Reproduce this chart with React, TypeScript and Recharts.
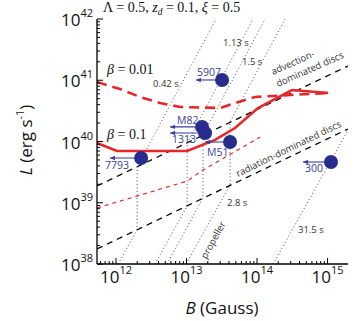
import React from 'react';
import { ComposedChart, Line, XAxis, YAxis } from 'recharts';

const RED = '#e8262a';
const NAVY = '#282c8c';
const NAVY_TEXT = '#3a3e9c';
const GREY = '#4a4a4a';
const SANS = "'Open Sans', 'DejaVu Sans', sans-serif";
const SERIF = "'Liberation Serif', 'Times New Roman', serif";

const B_MIN = 5.37e11;
const B_MAX = 1.95e15;
const L_MIN = 1e38;
const L_MAX = 1e42;

// beta = 0.1, solid red
const beta01B = [5.37e11, 1.03e12, 1.02e13, 2.54e13, 4.87e13, 1.03e14, 3.13e14, 1.02e15];
const beta01L = [9.46e39, 7.0e39, 7.0e39, 1.06e40, 1.66e40, 3.52e40, 6.93e40, 6.2e40];

// beta = 0.01, thick dashed red
const beta001B = [5.37e11, 1.14e12, 2.19e12, 4.21e12, 8.09e12, 2.99e13, 4.42e13, 9.38e13, 2.94e14, 1.02e15];
const beta001L = [9.36e40, 7.19e40, 5.33e40, 4.26e40, 3.66e40, 3.52e40, 4.1e40, 5.33e40, 5.75e40, 6.2e40];

// thin dashed red
const thinRedB = [5.37e11, 1.02e13, 1.71e13, 1.1e14];
const thinRedL = [8.2e38, 2.26e39, 3.43e39, 1.18e40];

// disc regime boundaries (black dashed)
const advectionB = [5.37e11, 1.95e15];
const advectionL = [1.88e39, 1.71e41];
const radiationB = [5.37e11, 1.95e15];
const radiationL = [1.76e38, 1.6e40];

// spin-equilibrium lines (dotted)
const spin042B = [1.07e12, 1.99e12, 1.99e12, 2.62e13];
const spin042L = [1e38, 3.59e38, 3.84e39, 1e42];
const spin113B = [3.57e12, 1.02e13, 1.02e13, 8.77e13];
const spin113L = [1e38, 8.85e38, 9.46e39, 1e42];
const spin15B = [5.28e12, 1.71e13, 1.71e13, 1.3e14];
const spin15L = [1e38, 1.2e39, 1.28e40, 1e42];
const spin28B = [9.84e12, 4.14e13, 4.14e13, 2.49e14];
const spin28L = [1e38, 1.95e39, 2.08e40, 1e42];
const spin315B = [1.69e14, 1.95e15];
const spin315L = [1e38, 1.54e40];

// ULX pulsars
const srcNames = ['5907', 'M82', '1313', 'M51', '7793', '300'];
const srcB = [3.19e13, 1.66e13, 1.83e13, 4.14e13, 2.27e12, 1.12e15];
const srcL = [1.01e41, 1.73e40, 1.38e40, 9.8e39, 5.38e39, 4.62e39];
const srcBLimit = [1.36e13, 5.84e12, 5.84e12, 1.83e13, 8.2e11, 4.49e14];

const labelOffset: Record<string, [number, number]> = {
  '5907': [1, -4],
  M82: [7, -3],
  '1313': [2, 10],
  M51: [2, 14],
  '7793': [-5, 11],
  '300': [2, 10],
};

const xTicks: number[] = [];
for (let e = 11; e <= 15; e++) {
  for (let m = 1; m <= 9; m++) {
    const v = m * 10 ** e;
    if (v >= B_MIN && v <= B_MAX) xTicks.push(v);
  }
}
const yTicks: number[] = [];
for (let e = 38; e <= 42; e++) {
  for (let m = 1; m <= 9; m++) {
    const v = m * 10 ** e;
    if (v >= L_MIN && v <= L_MAX * 1.0001) yTicks.push(v);
  }
}

const zip = (b: number[], l: number[]) => b.map((B, i) => ({ B, L: l[i] }));

const decade = (v: number) => {
  const lg = Math.log10(v);
  const e = Math.round(lg);
  return Math.abs(lg - e) < 1e-6 ? e : null;
};

const XTick = (props: any) => {
  const { x, y, payload, side } = props;
  const e = decade(payload.value);
  const len = e !== null ? 6 : 3;
  const dir = side === 'bottom' ? -1 : 1;
  return (
    <g>
      <line x1={x} x2={x} y1={y} y2={y + dir * len} stroke="#000" strokeWidth={1} />
      {e !== null && side === 'bottom' && (
        <text x={x} y={y + 19} textAnchor="middle" fontFamily={SANS} fontSize={17} fill="#111">
          10
          <tspan fontSize={11} dy={-9}>
            {e}
          </tspan>
        </text>
      )}
    </g>
  );
};

const YTick = (props: any) => {
  const { x, y, payload, side } = props;
  const e = decade(payload.value);
  const len = e !== null ? 6 : 3;
  const dir = side === 'left' ? 1 : -1;
  return (
    <g>
      <line x1={x} x2={x + dir * len} y1={y} y2={y} stroke="#000" strokeWidth={1} />
      {e !== null && side === 'left' && (
        <text x={x - 4} y={y + 7} textAnchor="end" fontFamily={SANS} fontSize={17} fill="#111">
          10
          <tspan fontSize={11} dy={-9}>
            {e}
          </tspan>
        </text>
      )}
    </g>
  );
};

const dotted = { stroke: GREY, strokeWidth: 1, strokeDasharray: '1 2.5', dot: false, isAnimationActive: false } as const;

export default function App() {
  const spinLines = [
    zip(spin042B, spin042L),
    zip(spin113B, spin113L),
    zip(spin15B, spin15L),
    zip(spin28B, spin28L),
    zip(spin315B, spin315L),
  ];
  const sources = srcNames.map((name, i) => ({ name, B: srcB[i], L: srcL[i] }));

  return (
    <div style={{ position: 'absolute', left: 0, top: 0, width: 360, height: 321, background: '#fff' }}>
      <ComposedChart width={360} height={321} margin={{ top: 19, right: 12, bottom: 0, left: 0 }}>
        <XAxis
          xAxisId={0}
          dataKey="B"
          type="number"
          scale="log"
          domain={[B_MIN, B_MAX]}
          allowDataOverflow
          ticks={xTicks}
          interval={0}
          height={57}
          tickSize={0}
          tickMargin={0}
          axisLine={{ stroke: '#000', strokeWidth: 1.3 }}
          tick={<XTick side="bottom" />}
        />
        <XAxis
          xAxisId="top"
          orientation="top"
          dataKey="B"
          type="number"
          scale="log"
          domain={[B_MIN, B_MAX]}
          allowDataOverflow
          ticks={xTicks}
          interval={0}
          height={0}
          tickSize={0}
          tickMargin={0}
          axisLine={{ stroke: '#000', strokeWidth: 1.3 }}
          tick={<XTick side="top" />}
        />
        <YAxis
          yAxisId={0}
          type="number"
          scale="log"
          domain={[L_MIN, L_MAX]}
          allowDataOverflow
          ticks={yTicks}
          interval={0}
          width={97}
          tickSize={0}
          tickMargin={0}
          axisLine={{ stroke: '#000', strokeWidth: 1.3 }}
          tick={<YTick side="left" />}
        />
        <YAxis
          yAxisId="right"
          orientation="right"
          type="number"
          scale="log"
          domain={[L_MIN, L_MAX]}
          allowDataOverflow
          ticks={yTicks}
          interval={0}
          width={0}
          tickSize={0}
          tickMargin={0}
          axisLine={{ stroke: '#000', strokeWidth: 1.3 }}
          tick={<YTick side="right" />}
        />

        {spinLines.map((d, i) => (
          <Line key={`spin${i}`} data={d} dataKey="L" type="linear" {...dotted} />
        ))}

        <Line data={zip(advectionB, advectionL)} dataKey="L" type="linear" stroke="#000" strokeWidth={1.3} strokeDasharray="6 5" dot={false} isAnimationActive={false} />
        <Line data={zip(radiationB, radiationL)} dataKey="L" type="linear" stroke="#000" strokeWidth={1.3} strokeDasharray="6 5" dot={false} isAnimationActive={false} />

        <Line data={zip(thinRedB, thinRedL)} dataKey="L" type="linear" stroke={RED} strokeWidth={1.2} strokeDasharray="4 4" dot={false} isAnimationActive={false} />
        <Line data={zip(beta001B, beta001L)} dataKey="L" type="linear" stroke={RED} strokeWidth={2.6} strokeDasharray="10 6" dot={false} isAnimationActive={false} />
        <Line data={zip(beta01B, beta01L)} dataKey="L" type="linear" stroke={RED} strokeWidth={2.6} dot={false} isAnimationActive={false} />

        {srcNames.map((name, i) => (
          <Line
            key={`arrow${name}`}
            data={[
              { B: srcBLimit[i], L: srcL[i] },
              { B: srcB[i], L: srcL[i] },
            ]}
            dataKey="L"
            type="linear"
            stroke={NAVY_TEXT}
            strokeWidth={1.1}
            isAnimationActive={false}
            dot={(p: any) => {
              if (p.index !== 0) return <g key={`a${name}${p.index}`} />;
              const [dx, dy] = labelOffset[name];
              return (
                <g key={`a${name}${p.index}`}>
                  <polygon points={`${p.cx},${p.cy} ${p.cx + 5},${p.cy - 2.2} ${p.cx + 5},${p.cy + 2.2}`} fill={NAVY_TEXT} />
                  <text x={p.cx + dx} y={p.cy + dy} fontFamily={SANS} fontSize={10.5} fill={NAVY_TEXT}>
                    {name}
                  </text>
                </g>
              );
            }}
          />
        ))}

        <Line
          data={sources}
          dataKey="L"
          type="linear"
          stroke="none"
          isAnimationActive={false}
          dot={{ r: 7, fill: NAVY, stroke: 'none' }}
        />
      </ComposedChart>

      <svg width={360} height={321} style={{ position: 'absolute', left: 0, top: 0, pointerEvents: 'none' }}>
        <text x={103} y={12} fontFamily={SERIF} fontSize={14} fill="#111">
          <tspan>Λ = 0.5, </tspan>
          <tspan fontStyle="italic">z</tspan>
          <tspan fontStyle="italic" fontSize={9.5} dy={3}>
            d
          </tspan>
          <tspan dy={-3}> = 0.1, </tspan>
          <tspan fontStyle="italic">ξ</tspan>
          <tspan> = 0.5</tspan>
        </text>

        <text x={107} y={74} fontFamily={SERIF} fontSize={14} fill="#111">
          <tspan fontStyle="italic">β</tspan> = 0.01
        </text>
        <text x={107} y={139} fontFamily={SERIF} fontSize={14} fill="#111">
          <tspan fontStyle="italic">β</tspan> = 0.1
        </text>

        <g fontFamily={SANS} fontSize={9.5} fill="#333">
          <text x={153} y={87}>0.42 s</text>
          <text x={223} y={46}>1.13 s</text>
          <text x={242} y={65}>1.5 s</text>
          <text x={227} y={206}>2.8 s</text>
          <text x={298} y={233}>31.5 s</text>
          <text transform="translate(213,240) rotate(-61)" textAnchor="middle" dy={3.5}>
            propeller
          </text>
          <text transform="translate(273,75) rotate(-24)">advection-</text>
          <text transform="translate(278,87) rotate(-24)">dominated discs</text>
          <text transform="translate(238,177) rotate(-26)">radiation-dominated discs</text>
        </g>

        <text transform="translate(32,140) rotate(-90)" textAnchor="middle" fontFamily={SANS} fontSize={17} fill="#111">
          <tspan fontStyle="italic">L</tspan> (erg s
          <tspan fontSize={11} dy={-8}>
            -1
          </tspan>
          <tspan dy={8}>)</tspan>
        </text>
        <text x={222} y={314} textAnchor="middle" fontFamily={SANS} fontSize={17} fill="#111">
          <tspan fontStyle="italic">B</tspan> (Gauss)
        </text>
      </svg>
    </div>
  );
}
